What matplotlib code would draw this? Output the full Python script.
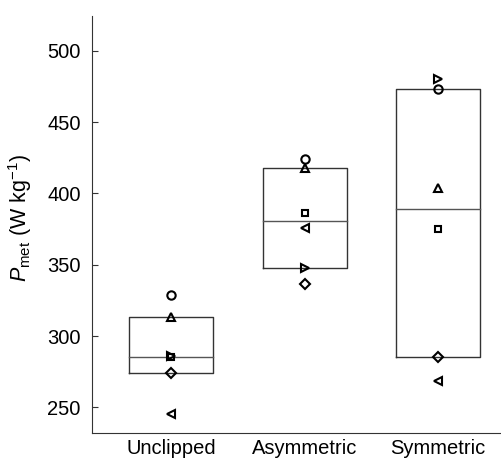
import numpy as np
import matplotlib
matplotlib.use('Agg')
import matplotlib.pyplot as plt

plt.rcParams['font.family'] = ['Liberation Sans', 'DejaVu Sans']
plt.rcParams['mathtext.fontset'] = 'custom'
plt.rcParams['mathtext.rm'] = 'Liberation Sans'
plt.rcParams['mathtext.it'] = 'Liberation Sans:italic'

# --- dados ---
condicoes = ['Unclipped', 'Asymmetric', 'Symmetric']
marcadores = ['o', '^', '>', 's', 'D', '<']   # um marcador por sujeito
valores = {
    'Unclipped':  [328.5, 313.0, 286.0, 285.0, 274.0, 245.0],
    'Asymmetric': [423.9, 417.6, 347.5, 386.0, 336.8, 375.6],
    'Symmetric':  [473.0, 404.0, 480.0, 374.7, 285.5, 268.8],
}
yticks = [250, 300, 350, 400, 450, 500]

COR_CAIXA = '#333333'
COR_MEDIANA = '#555555'
FONTE = 14.5

fig = plt.figure(figsize=(5.02, 4.59), dpi=100)
ax = fig.add_axes([0.183, 0.056, 0.817, 0.909])

largura = 0.63
for i, cond in enumerate(condicoes):
    x = i + 1
    v = np.array(valores[cond])
    q1, med, q3 = np.percentile(v, [25, 50, 75], method='hazen')
    # caixa
    ax.plot([x - largura / 2, x + largura / 2, x + largura / 2, x - largura / 2, x - largura / 2],
            [q1, q1, q3, q3, q1], color=COR_CAIXA, lw=1.0, zorder=2)
    ax.plot([x - largura / 2, x + largura / 2], [med, med], color=COR_MEDIANA, lw=1.0, zorder=2)
    # pontos individuais
    for m, val in zip(marcadores, v):
        ms = 5 if m in ('s', 'D') else 6
        ax.plot(x, val, marker=m, ms=ms, mfc='none', mec='black', mew=1.5,
                linestyle='none', zorder=3)

ax.set_xlim(0.406, 3.48)
ax.set_ylim(231.8, 524.3)
ax.set_xticks([1, 2, 3])
ax.set_xticklabels(condicoes, fontsize=FONTE)
ax.set_yticks(yticks)
ax.tick_params(axis='y', direction='in', length=4, pad=8, labelsize=FONTE, color=COR_CAIXA)
ax.tick_params(axis='x', length=0, labelsize=FONTE, pad=4)
ax.set_ylabel(r'$P_\mathrm{met}$ (W kg$^{-1}$)', fontsize=15.5)
ax.yaxis.set_label_coords(-0.141, 0.516)

for s in ['top', 'right']:
    ax.spines[s].set_visible(False)
for s in ['left', 'bottom']:
    ax.spines[s].set_color(COR_CAIXA)

fig.savefig('out.png', dpi=100)
